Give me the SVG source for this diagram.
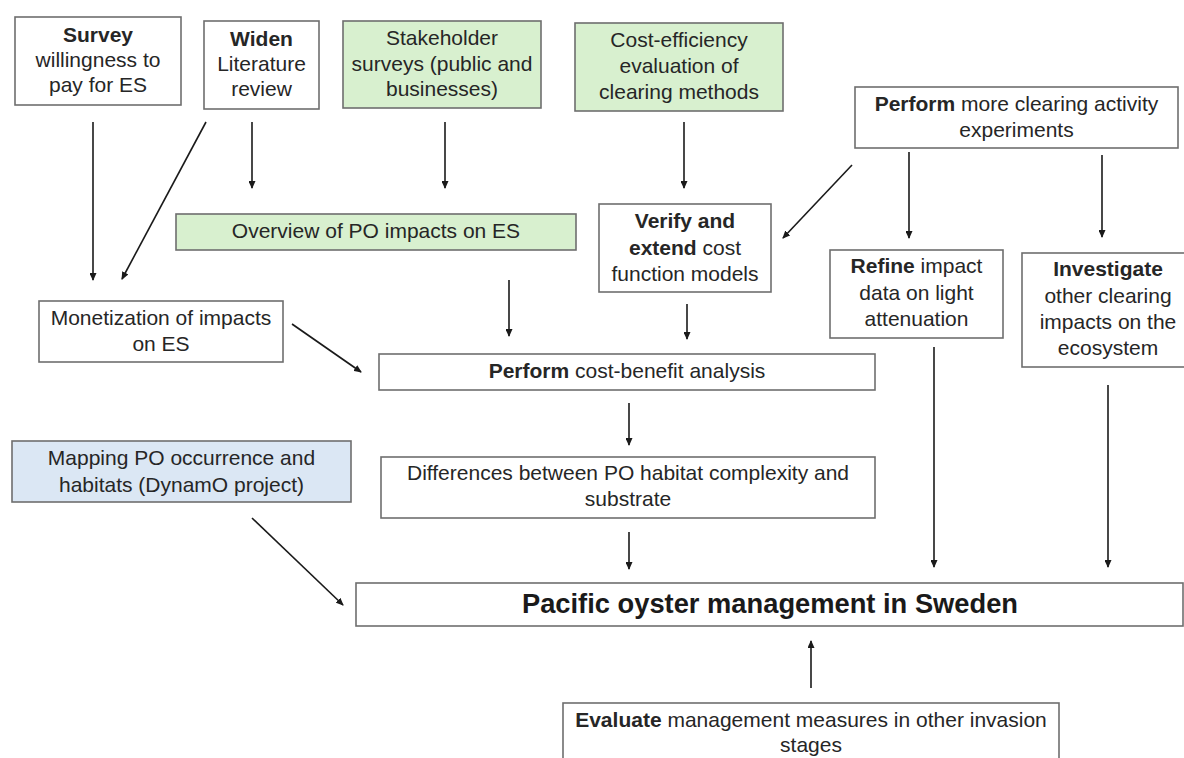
<svg xmlns="http://www.w3.org/2000/svg" width="1184" height="758" viewBox="0 0 1184 758">
<style>
.box{fill:#ffffff;stroke:#6e6e6e;stroke-width:1.6}
.green{fill:#d8f0cf}
.blue{fill:#dbe7f4}
text{font-family:"Liberation Sans",Arial,sans-serif;font-size:21px;fill:#262626;text-anchor:middle}
.b{font-weight:bold}
.title{font-size:27.3px;font-weight:bold;fill:#1a1a1a}
.conn line{stroke:#1a1a1a;stroke-width:1.6;marker-end:url(#ah)}
</style>
<defs>
<marker id="ah" markerUnits="userSpaceOnUse" markerWidth="8" markerHeight="7" refX="7" refY="3.5" orient="auto">
<path d="M0,0 L8,3.5 L0,7 z" fill="#1a1a1a"/>
</marker>
</defs>
<rect width="1184" height="758" fill="#ffffff"/>

<g id="survey">
<rect class="box" x="15" y="17" width="166" height="88"/>
<text x="98" y="42" class="b">Survey</text>
<text x="98" y="67">willingness to</text>
<text x="98" y="92">pay for ES</text>
</g>
<g id="widen">
<rect class="box" x="204" y="21" width="115" height="88"/>
<text x="261.5" y="46" class="b">Widen</text>
<text x="261.5" y="71">Literature</text>
<text x="261.5" y="96">review</text>
</g>
<g id="stakeholder">
<rect class="box green" x="343" y="21" width="198" height="87"/>
<text x="442" y="45">Stakeholder</text>
<text x="442" y="71">surveys (public and</text>
<text x="442" y="96">businesses)</text>
</g>
<g id="costeff">
<rect class="box green" x="575" y="23" width="208" height="88"/>
<text x="679" y="47">Cost-efficiency</text>
<text x="679" y="73">evaluation of</text>
<text x="679" y="99">clearing methods</text>
</g>
<g id="perform-exp">
<rect class="box" x="855" y="87" width="323" height="61"/>
<text x="1016.5" y="111"><tspan class="b">Perform</tspan> more clearing activity</text>
<text x="1016.5" y="137">experiments</text>
</g>
<g id="overview">
<rect class="box green" x="176" y="214" width="400" height="36"/>
<text x="376" y="238">Overview of PO impacts on ES</text>
</g>
<g id="verify">
<rect class="box" x="599" y="204" width="172" height="88"/>
<text x="685" y="228" class="b">Verify and</text>
<text x="685" y="255"><tspan class="b">extend</tspan> cost</text>
<text x="685" y="281">function models</text>
</g>
<g id="refine">
<rect class="box" x="830" y="250" width="173" height="88"/>
<text x="916.5" y="273"><tspan class="b">Refine</tspan> impact</text>
<text x="916.5" y="300">data on light</text>
<text x="916.5" y="326">attenuation</text>
</g>
<g id="investigate">
<rect class="box" x="1022" y="253" width="172" height="114"/>
<text x="1108" y="276" class="b">Investigate</text>
<text x="1108" y="303">other clearing</text>
<text x="1108" y="329">impacts on the</text>
<text x="1108" y="355">ecosystem</text>
</g>
<g id="monetization">
<rect class="box" x="39" y="301" width="244" height="61"/>
<text x="161" y="325">Monetization of impacts</text>
<text x="161" y="351">on ES</text>
</g>
<g id="cba">
<rect class="box" x="379" y="354" width="496" height="36"/>
<text x="627" y="378"><tspan class="b">Perform</tspan> cost-benefit analysis</text>
</g>
<g id="mapping">
<rect class="box blue" x="12" y="441" width="339" height="61"/>
<text x="181.5" y="465">Mapping PO occurrence and</text>
<text x="181.5" y="492">habitats (DynamO project)</text>
</g>
<g id="differences">
<rect class="box" x="381" y="457" width="494" height="61"/>
<text x="628" y="480">Differences between PO habitat complexity and</text>
<text x="628" y="506">substrate</text>
</g>
<g id="pacific">
<rect class="box" x="356" y="583" width="827" height="43"/>
<text x="770" y="613" class="title">Pacific oyster management in Sweden</text>
</g>
<g id="evaluate">
<rect class="box" x="563" y="703" width="496" height="70"/>
<text x="811" y="727"><tspan class="b">Evaluate</tspan> management measures in other invasion</text>
<text x="811" y="752">stages</text>
</g>

<g id="connectors" class="conn">
<line x1="93" y1="122" x2="93" y2="280"/>
<line x1="206" y1="122" x2="122" y2="279"/>
<line x1="252" y1="122" x2="252" y2="188"/>
<line x1="445" y1="122" x2="445" y2="188"/>
<line x1="684" y1="122" x2="684" y2="188"/>
<line x1="852" y1="165" x2="783" y2="238"/>
<line x1="909" y1="152" x2="909" y2="238"/>
<line x1="1102" y1="155" x2="1102" y2="237"/>
<line x1="292" y1="324" x2="361" y2="372"/>
<line x1="509" y1="280" x2="509" y2="336"/>
<line x1="687" y1="304" x2="687" y2="339"/>
<line x1="629" y1="403" x2="629" y2="445"/>
<line x1="934" y1="347" x2="934" y2="567"/>
<line x1="1108" y1="385" x2="1108" y2="567"/>
<line x1="252" y1="518" x2="343" y2="605"/>
<line x1="629" y1="532" x2="629" y2="569"/>
<line x1="811" y1="688" x2="811" y2="641"/>
</g>
</svg>
